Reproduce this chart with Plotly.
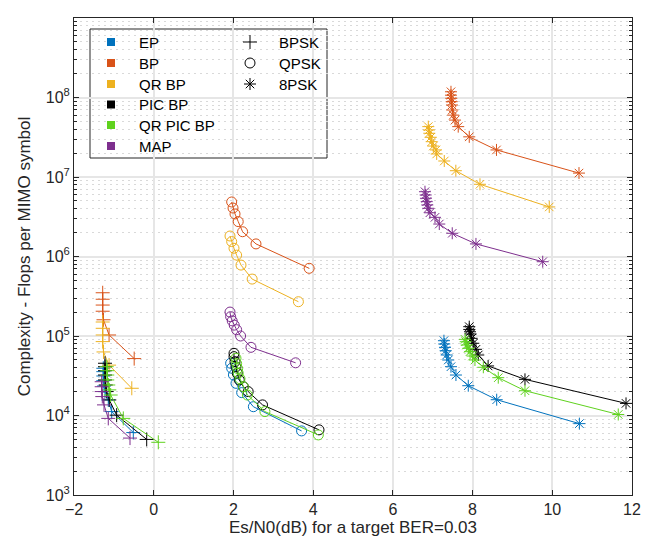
import plotly.graph_objects as go

# ---------------- data ----------------
algorithms = ["EP", "BP", "QR BP", "PIC BP", "QR PIC BP", "MAP"]
colors = ["#0072BD", "#D95319", "#EDB120", "#000000", "#5FD21E", "#7E2F8E"]
modulations = ["BPSK", "QPSK", "8PSK"]
mod_symbols = ["cross-thin-open", "circle-open", "asterisk-open"]

# BPSK
ep_bpsk_x = [-1.265, -1.265, -1.265, -1.265, -1.247, -1.222, -1.14, -1.054, -0.512]
ep_bpsk_y = [3.93e4, 3.56e4, 3.14e4, 2.74e4, 2.35e4, 2.0e4, 1.57e4, 1.12e4, 6.1e3]
bp_bpsk_x = [-1.28, -1.28, -1.28, -1.28, -1.26, -1.12, -0.49]
bp_bpsk_y = [3.5e5, 2.9e5, 2.45e5, 2.05e5, 1.6e5, 1.03e5, 5.2e4]
qrbp_bpsk_x = [-1.28, -1.28, -1.28, -1.28, -1.26, -1.12, -0.55]
qrbp_bpsk_y = [1.5e5, 1.25e5, 1.03e5, 8.5e4, 6.3e4, 4.3e4, 2.2e4]
pic_bpsk_x = [-1.222, -1.222, -1.222, -1.222, -1.222, -1.205, -1.18, -1.114, -0.93, -0.176]
pic_bpsk_y = [4.54e4, 4.11e4, 3.66e4, 3.23e4, 2.8e4, 2.42e4, 2.0e4, 1.57e4, 1.01e4, 5.0e3]
qrpic_bpsk_x = [-1.18, -1.165, -1.165, -1.165, -1.14, -1.114, -1.08, -0.763, 0.115]
qrpic_bpsk_y = [4.11e4, 3.66e4, 3.23e4, 2.8e4, 2.42e4, 2.1e4, 1.81e4, 9.2e3, 4.6e3]
map_bpsk_x = [-1.305, -1.305, -1.305, -1.29, -1.247, -1.14, -0.595]
map_bpsk_y = [2.66e4, 2.3e4, 2.0e4, 1.73e4, 1.36e4, 9.2e3, 5.2e3]

# QPSK
ep_qpsk_x = [1.93, 1.956, 2.0, 2.064, 2.207, 2.5, 3.71]
ep_qpsk_y = [4.54e4, 3.93e4, 3.24e4, 2.54e4, 1.94e4, 1.29e4, 6.4e3]
bp_qpsk_x = [1.956, 1.99, 2.04, 2.12, 2.23, 2.566, 3.90]
bp_qpsk_y = [4.85e6, 4.07e6, 3.43e6, 2.75e6, 2.05e6, 1.44e6, 7.1e5]
qrbp_qpsk_x = [1.914, 1.956, 2.014, 2.08, 2.19, 2.47, 3.63]
qrbp_qpsk_y = [1.81e6, 1.54e6, 1.27e6, 1.04e6, 7.8e5, 5.2e5, 2.7e5]
pic_qpsk_x = [2.014, 2.014, 2.04, 2.064, 2.097, 2.147, 2.25, 2.37, 2.73, 4.147]
pic_qpsk_y = [6.05e4, 5.5e4, 4.75e4, 4.1e4, 3.4e4, 2.8e4, 2.3e4, 2.0e4, 1.36e4, 6.6e3]
qrpic_qpsk_x = [2.064, 2.08, 2.106, 2.12, 2.165, 2.25, 2.35, 2.79, 4.13]
qrpic_qpsk_y = [5.25e4, 4.5e4, 3.9e4, 3.4e4, 2.9e4, 2.3e4, 1.81e4, 1.12e4, 5.7e3]
map_qpsk_x = [1.914, 1.93, 1.97, 2.02, 2.08, 2.18, 2.44, 3.56]
map_qpsk_y = [2.0e5, 1.75e5, 1.55e5, 1.37e5, 1.2e5, 1.0e5, 7.2e4, 4.6e4]

# 8PSK
ep_8psk_x = [7.282, 7.29, 7.308, 7.325, 7.35, 7.39, 7.458, 7.583, 7.892, 8.605, 10.68]
ep_8psk_y = [8.73e4, 7.94e4, 7.2e4, 6.53e4, 5.77e4, 4.99e4, 4.11e4, 3.23e4, 2.37e4, 1.58e4, 7.9e3]
bp_8psk_x = [7.458, 7.458, 7.466, 7.476, 7.483, 7.49, 7.516, 7.56, 7.64, 7.917, 8.6, 10.67]
bp_8psk_y = [1.18e8, 1.07e8, 9.77e7, 8.86e7, 8.05e7, 6.96e7, 6.0e7, 5.2e7, 4.3e7, 3.2e7, 2.19e7, 1.12e7]
qrbp_8psk_x = [6.889, 6.906, 6.914, 6.95, 6.974, 7.014, 7.082, 7.1, 7.29, 7.58, 8.186, 9.924]
qrbp_8psk_y = [4.3e7, 3.9e7, 3.55e7, 3.16e7, 2.78e7, 2.45e7, 2.19e7, 1.95e7, 1.59e7, 1.2e7, 8.1e6, 4.2e6]
pic_8psk_x = [7.917, 7.917, 7.935, 7.952, 7.977, 8.018, 8.085, 8.143, 8.39, 9.315, 11.85]
pic_8psk_y = [1.31e5, 1.21e5, 1.13e5, 1.06e5, 9.35e4, 8.1e4, 6.8e4, 5.77e4, 4.2e4, 2.85e4, 1.42e4]
qrpic_8psk_x = [7.81, 7.827, 7.852, 7.892, 7.935, 8.0, 8.06, 8.27, 8.645, 9.315, 11.655]
qrpic_8psk_y = [9.08e4, 8.47e4, 7.7e4, 7.0e4, 6.35e4, 5.6e4, 4.99e4, 4.04e4, 2.99e4, 2.05e4, 1.03e4]
map_8psk_x = [6.806, 6.823, 6.83, 6.85, 6.864, 6.889, 6.93, 7.057, 7.165, 7.49, 8.085, 9.76]
map_8psk_y = [6.53e6, 5.94e6, 5.4e6, 4.9e6, 4.45e6, 4.04e6, 3.55e6, 3.11e6, 2.56e6, 1.96e6, 1.44e6, 8.6e5]

x_ticks = [-2, 0, 2, 4, 6, 8, 10, 12]
y_exponents = [3, 4, 5, 6, 7, 8, 9]
x_title = "Es/N0(dB) for a target BER=0.03"
y_title = "Complexity - Flops per MIMO symbol"

series = {
    ("EP", "BPSK"): (ep_bpsk_x, ep_bpsk_y), ("BP", "BPSK"): (bp_bpsk_x, bp_bpsk_y),
    ("QR BP", "BPSK"): (qrbp_bpsk_x, qrbp_bpsk_y), ("PIC BP", "BPSK"): (pic_bpsk_x, pic_bpsk_y),
    ("QR PIC BP", "BPSK"): (qrpic_bpsk_x, qrpic_bpsk_y), ("MAP", "BPSK"): (map_bpsk_x, map_bpsk_y),
    ("EP", "QPSK"): (ep_qpsk_x, ep_qpsk_y), ("BP", "QPSK"): (bp_qpsk_x, bp_qpsk_y),
    ("QR BP", "QPSK"): (qrbp_qpsk_x, qrbp_qpsk_y), ("PIC BP", "QPSK"): (pic_qpsk_x, pic_qpsk_y),
    ("QR PIC BP", "QPSK"): (qrpic_qpsk_x, qrpic_qpsk_y), ("MAP", "QPSK"): (map_qpsk_x, map_qpsk_y),
    ("EP", "8PSK"): (ep_8psk_x, ep_8psk_y), ("BP", "8PSK"): (bp_8psk_x, bp_8psk_y),
    ("QR BP", "8PSK"): (qrbp_8psk_x, qrbp_8psk_y), ("PIC BP", "8PSK"): (pic_8psk_x, pic_8psk_y),
    ("QR PIC BP", "8PSK"): (qrpic_8psk_x, qrpic_8psk_y), ("MAP", "8PSK"): (map_8psk_x, map_8psk_y),
}

FONT = "Liberation Sans, Arial, Helvetica, sans-serif"
TXT = "#262626"

fig = go.Figure()
for (alg, mod), (xs, ys) in series.items():
    c = colors[algorithms.index(alg)]
    sym = mod_symbols[modulations.index(mod)]
    fig.add_trace(go.Scatter(
        x=xs, y=ys, mode="lines+markers", showlegend=False,
        line=dict(color=c, width=1),
        marker=dict(symbol=sym, size=10, color=c, line=dict(color=c, width=1)),
    ))

# ---------------- manual legend (plot-pixel overlay axes) ----------------
# the page body adds an 8px offset; figure is sized so plot area lands at x 74..632, y 18..495
OFF = 8
L, R, T, B = 74, 632, 18, 495
W, H = R - L, B - T

row_y = [42, 63, 84, 104.5, 125, 146]
fig.add_trace(go.Scatter(
    x=[111] * len(algorithms), y=row_y[:len(algorithms)], mode="markers",
    marker=dict(symbol="square", size=8, color=colors, line=dict(width=0)),
    xaxis="x2", yaxis="y2", showlegend=False, hoverinfo="skip"))
fig.add_trace(go.Scatter(
    x=[250] * len(modulations), y=row_y[:len(modulations)], mode="markers",
    marker=dict(symbol=mod_symbols, size=10, color="black", line=dict(color="black", width=1)),
    xaxis="x2", yaxis="y2", showlegend=False, hoverinfo="skip"))

annotations = []
for i, name in enumerate(algorithms):
    annotations.append(dict(x=137, y=row_y[i], xref="x2", yref="y2", text=name, showarrow=False,
                            xanchor="left", yanchor="middle", font=dict(family=FONT, size=15, color="black")))
for i, name in enumerate(modulations):
    annotations.append(dict(x=277, y=row_y[i], xref="x2", yref="y2", text=name, showarrow=False,
                            xanchor="left", yanchor="middle", font=dict(family=FONT, size=15, color="black")))

shapes = [dict(type="rect", xref="paper", yref="paper",
               x0=(90 - L) / W, x1=(327 - L) / W, y0=(B - 158) / H, y1=(B - 29) / H,
               fillcolor="white", line=dict(color="#262626", width=1), layer="between")]

minor_vals = [k * 10 ** e for e in y_exponents[:-1] for k in range(2, 10)]

fig.update_layout(
    width=662 - OFF, height=542 - OFF,
    margin=dict(l=L - OFF, r=662 - R, t=T - OFF, b=542 - B, autoexpand=False),
    paper_bgcolor="white", plot_bgcolor="white",
    font=dict(family=FONT, size=16, color=TXT),
    showlegend=False,
    shapes=shapes, annotations=annotations,
    xaxis=dict(range=[-2, 12], tickvals=x_ticks, ticks="inside", ticklen=5, tickcolor=TXT,
               showline=True, linecolor=TXT, linewidth=1, mirror="ticks",
               showgrid=True, gridcolor="#e6e6e6", gridwidth=1.5, zeroline=False,
               tickfont=dict(size=16, color=TXT),
               title=dict(text=x_title, font=dict(size=17, color=TXT), standoff=0)),
    yaxis=dict(type="log", range=[3, 9], tickvals=[10 ** e for e in y_exponents],
               ticktext=[f"10<sup>{e}</sup>" for e in y_exponents],
               ticks="inside", ticklen=5, tickcolor=TXT,
               showline=True, linecolor=TXT, linewidth=1, mirror="ticks",
               showgrid=True, gridcolor="#e6e6e6", gridwidth=2, zeroline=False,
               tickfont=dict(size=16, color=TXT),
               minor=dict(tickvals=minor_vals, ticks="inside", ticklen=3, tickcolor=TXT,
                          showgrid=True, gridcolor="#d9d9d9", griddash="1.5px,4.5px", gridwidth=1.2),
               title=dict(text=y_title, font=dict(size=17, color=TXT), standoff=10)),
    xaxis2=dict(overlaying="x", range=[L, R], visible=False, fixedrange=True),
    yaxis2=dict(overlaying="y", range=[B, T], visible=False, fixedrange=True),
)

fig.write_html("out.html")
